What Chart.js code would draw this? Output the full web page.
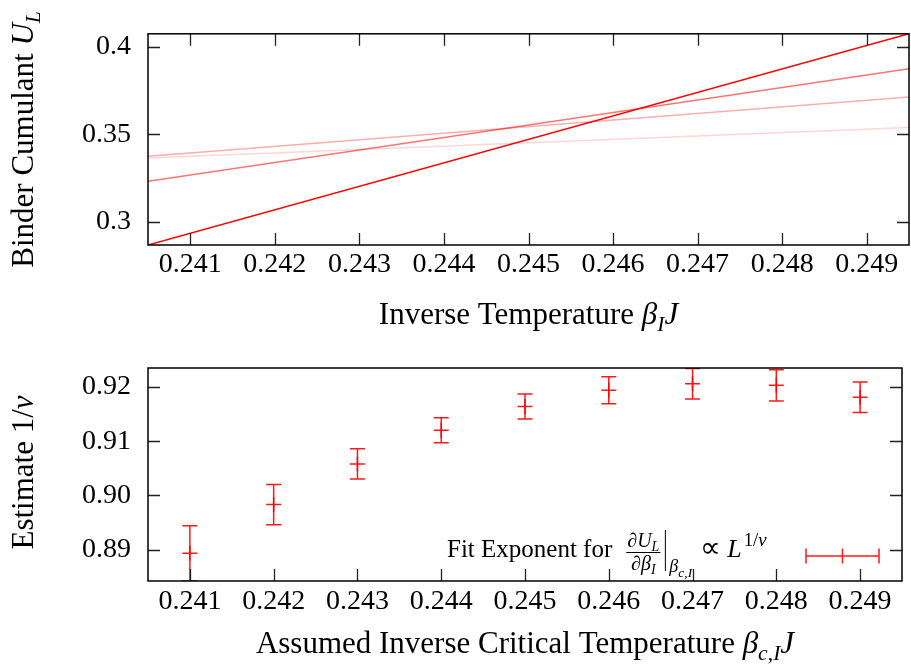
<!DOCTYPE html>
<html>
<head>
<meta charset="utf-8">
<script src="https://cdn.jsdelivr.net/npm/chart.js@4.4.1/dist/chart.umd.min.js"></script>
<style>
  html, body { margin: 0; padding: 0; background: #fff; }
  #wrap { position: relative; width: 911px; height: 668px; }
  canvas { position: absolute; left: 0; }
</style>
</head>
<body>
<div id="wrap">
  <canvas id="binder" width="911" height="340" style="top:0"></canvas>
  <canvas id="nu" width="911" height="348" style="top:320px"></canvas>
</div>
<script>
// top panel: linear fits of the Binder cumulant for 4 system sizes
const betaRange = [0.2405, 0.2495];
const binderFit1 = [0.2869, 0.4074];
const binderFit2 = [0.3233, 0.3875];
const binderFit3 = [0.3375, 0.3714];
const binderFit4 = [0.3365, 0.3540];

// bottom panel: fitted exponent vs assumed critical temperature
const betaC = [0.241, 0.242, 0.243, 0.244, 0.245, 0.246, 0.247, 0.248, 0.249];
const nuInv = [0.8893, 0.8983, 0.9058, 0.9120, 0.9164, 0.9194, 0.9206, 0.9203, 0.9181];
const nuErr = [0.0051, 0.0037, 0.0028, 0.0023, 0.0023, 0.0025, 0.0028, 0.0029, 0.0028];

const xTicks = [0.241, 0.242, 0.243, 0.244, 0.245, 0.246, 0.247, 0.248, 0.249];
const xLabels = ['0.241', '0.242', '0.243', '0.244', '0.245', '0.246', '0.247', '0.248', '0.249'];
const binderTicks = [0.3, 0.35, 0.4];
const binderLabels = ['0.3', '0.35', '0.4'];
const nuTicks = [0.89, 0.90, 0.91, 0.92];
const nuLabels = ['0.89', '0.90', '0.91', '0.92'];

const FONT = 'Liberation Serif';
const RED = '#ff0000';
const TITLE_SIZE = 31;

// draw a run of text pieces (italic / sub / sup), returns width
function drawRich(ctx, parts, x, y, size, align) {
    const fontOf = p => (p.it ? 'italic ' : '') + (size * (p.s || 1)) + 'px "' + FONT + '"';
    let w = 0;
    parts.forEach(p => {
        ctx.font = fontOf(p);
        p.w = ctx.measureText(p.t).width + (p.gap || 0);
        w += p.w;
    });
    let cx = align === 'center' ? x - w / 2 : (align === 'right' ? x - w : x);
    ctx.textAlign = 'left';
    ctx.textBaseline = 'alphabetic';
    parts.forEach(p => {
        ctx.font = fontOf(p);
        ctx.fillText(p.t, cx, y + (p.dy || 0) * size);
        cx += p.w;
    });
    return w;
}

const sub = (t) => ({ t: t, it: true, s: 0.7, dy: 0.22 });

function framePlugin(cfg) {
    return {
        id: 'frame',
        afterDraw(chart) {
            const { ctx, chartArea: a, scales } = chart;
            ctx.save();
            ctx.strokeStyle = '#222';
            ctx.lineWidth = 1.3;
            ctx.beginPath();
            scales.x.ticks.forEach(t => {
                const px = Math.round(scales.x.getPixelForValue(t.value)) + 0.5;
                ctx.moveTo(px, a.bottom); ctx.lineTo(px, a.bottom - 12);
                if (cfg.mirrorX) { ctx.moveTo(px, a.top); ctx.lineTo(px, a.top + 12); }
            });
            scales.y.ticks.forEach(t => {
                const py = Math.round(scales.y.getPixelForValue(t.value)) + 0.5;
                ctx.moveTo(a.left, py); ctx.lineTo(a.left + 12, py);
                ctx.moveTo(a.right, py); ctx.lineTo(a.right - 12, py);
            });
            ctx.stroke();
            ctx.strokeStyle = '#000';
            ctx.lineWidth = 1.5;
            ctx.strokeRect(a.left, a.top, a.width, a.height);

            ctx.fillStyle = '#000';
            drawRich(ctx, cfg.xTitle, (a.left + a.right) / 2, cfg.xTitleY, TITLE_SIZE, 'center');
            ctx.translate(cfg.yTitleX, (a.top + a.bottom) / 2 + cfg.yTitleShift);
            ctx.rotate(-Math.PI / 2);
            drawRich(ctx, cfg.yTitle, 0, 0, TITLE_SIZE, 'center');
            ctx.restore();
            if (cfg.extra) cfg.extra(chart);
        }
    };
}

const errorBarPlugin = {
    id: 'errbars',
    beforeDatasetsDraw(chart) {
        const { ctx, chartArea: a, scales } = chart;
        ctx.save();
        ctx.beginPath();
        ctx.rect(a.left, a.top, a.width, a.height);
        ctx.clip();
        ctx.strokeStyle = 'rgba(255,0,0,0.9)';
        ctx.lineWidth = 1.5;
        ctx.beginPath();
        betaC.forEach((b, i) => {
            const px = scales.x.getPixelForValue(b);
            const y1 = scales.y.getPixelForValue(nuInv[i] + nuErr[i]);
            const y0 = scales.y.getPixelForValue(nuInv[i] - nuErr[i]);
            ctx.moveTo(px, y0); ctx.lineTo(px, y1);
            ctx.moveTo(px - 7.5, y1); ctx.lineTo(px + 7.5, y1);
            ctx.moveTo(px - 7.5, y0); ctx.lineTo(px + 7.5, y0);
        });
        ctx.stroke();
        ctx.restore();
    }
};

function drawNuLegend(chart) {
    const ctx = chart.ctx;
    ctx.save();
    ctx.fillStyle = '#000';
    const base = 237;
    let x = 447;
    x += drawRich(ctx, [{ t: 'Fit Exponent for' }], x, base, 25, 'left') + 14;
    // fraction dU_L / d beta_I
    const num = [{ t: '\u2202' }, { t: 'U', it: true }, sub('L')];
    const den = [{ t: '\u2202' }, { t: '\u03B2', it: true }, sub('I')];
    const nw = drawRich(ctx, num, -1000, -1000, 20, 'left');
    const dw = drawRich(ctx, den, -1000, -1000, 20, 'left');
    const fw = Math.max(nw, dw) + 2;
    const fc = x + fw / 2;
    drawRich(ctx, num, fc, 227, 20, 'center');
    drawRich(ctx, den, fc, 250, 20, 'center');
    ctx.strokeStyle = '#000';
    ctx.lineWidth = 1;
    ctx.beginPath();
    ctx.moveTo(x, 232.5); ctx.lineTo(x + fw, 232.5);
    x += fw + 5;
    ctx.moveTo(x, 210); ctx.lineTo(x, 251);
    ctx.stroke();
    x += 4;
    x += drawRich(ctx, [{ t: '\u03B2', it: true }, { t: 'c,I', it: true, s: 0.75, dy: 0.25 }], x, 252, 18, 'left') + 8;
    x += drawRich(ctx, [{ t: '\u221D', s: 1.15 }], x, base, 25, 'left') + 6;
    drawRich(ctx, [{ t: 'L', it: true, gap: 2 }, { t: '1/', s: 0.72, dy: -0.42 }, { t: '\u03BD', it: true, s: 0.72, dy: -0.42 }], x, base, 26, 'left');

    // legend sample: horizontal error bar with a centre tick
    ctx.strokeStyle = 'rgba(255,0,0,0.9)';
    ctx.lineWidth = 1.5;
    ctx.beginPath();
    ctx.moveTo(806, 236); ctx.lineTo(879, 236);
    [806, 842.5, 879].forEach(px => { ctx.moveTo(px, 228.5); ctx.lineTo(px, 243.5); });
    ctx.stroke();
    ctx.restore();
}

function fixedTicks(values) {
    return function (scale) { scale.ticks = values.map(v => ({ value: v })); };
}

function lineSet(vals, color) {
    return {
        data: betaRange.map((b, i) => ({ x: b, y: vals[i] })),
        borderColor: color,
        borderWidth: 1.5,
        pointRadius: 0,
        showLine: true,
        fill: false
    };
}

const tickFont = { family: FONT, size: 28 };

new Chart(document.getElementById('binder'), {
    type: 'scatter',
    data: {
        datasets: [
            lineSet(binderFit4, 'rgba(255,0,0,0.16)'),
            lineSet(binderFit3, 'rgba(255,0,0,0.32)'),
            lineSet(binderFit2, 'rgba(255,0,0,0.55)'),
            lineSet(binderFit1, RED)
        ]
    },
    options: {
        responsive: false,
        animation: false,
        layout: { padding: { top: 33, right: 2, left: 0, bottom: 0 } },
        plugins: { legend: { display: false }, tooltip: { enabled: false } },
        scales: {
            x: {
                type: 'linear', min: betaRange[0], max: betaRange[1],
                afterBuildTicks: fixedTicks(xTicks),
                afterFit: s => { s.height = 95; },
                grid: { display: false, drawTicks: false }, border: { display: false },
                ticks: { font: tickFont, color: '#000', padding: 3, maxRotation: 0, autoSkip: false,
                    callback: (v, i) => xLabels[i] }
            },
            y: {
                type: 'linear', min: 0.2869, max: 0.4074,
                afterBuildTicks: fixedTicks(binderTicks),
                afterFit: s => { s.width = 148; },
                grid: { display: false, drawTicks: false }, border: { display: false },
                ticks: { font: tickFont, color: '#000', padding: 17, callback: (v, i) => binderLabels[i] }
            }
        }
    },
    plugins: [framePlugin({
        mirrorX: true,
        xTitle: [{ t: 'Inverse Temperature ' }, { t: '\u03B2', it: true }, sub('I'), { t: 'J', it: true }],
        xTitleY: 324,
        yTitle: [{ t: 'Binder Cumulant ' }, { t: 'U', it: true }, sub('L')],
        yTitleX: 33, yTitleShift: 0
    })]
});

new Chart(document.getElementById('nu'), {
    type: 'scatter',
    data: {
        datasets: [{
            data: betaC.map((b, i) => ({ x: b, y: nuInv[i] })),
            pointStyle: 'cross',
            pointRadius: 7.5,
            borderColor: 'rgba(255,0,0,0.9)',
            borderWidth: 1.5,
            showLine: false
        }]
    },
    options: {
        responsive: false,
        animation: false,
        layout: { padding: { top: 48, right: 2, left: 0, bottom: 0 } },
        plugins: { legend: { display: false }, tooltip: { enabled: false } },
        scales: {
            x: {
                type: 'linear', min: betaRange[0], max: betaRange[1],
                afterBuildTicks: fixedTicks(xTicks),
                afterFit: s => { s.height = 87; },
                grid: { display: false, drawTicks: false }, border: { display: false },
                ticks: { font: tickFont, color: '#000', padding: 4, maxRotation: 0, autoSkip: false,
                    callback: (v, i) => xLabels[i] }
            },
            y: {
                type: 'linear', min: 0.8842, max: 0.9235,
                afterBuildTicks: fixedTicks(nuTicks),
                afterFit: s => { s.width = 148; },
                grid: { display: false, drawTicks: false }, border: { display: false },
                ticks: { font: tickFont, color: '#000', padding: 17, callback: (v, i) => nuLabels[i] }
            }
        }
    },
    plugins: [errorBarPlugin, framePlugin({
        mirrorX: false,
        xTitle: [{ t: 'Assumed Inverse Critical Temperature ' }, { t: '\u03B2', it: true }, sub('c,I'), { t: 'J', it: true }],
        xTitleY: 333,
        yTitle: [{ t: 'Estimate 1/' }, { t: '\u03BD', it: true }],
        yTitleX: 33, yTitleShift: -2,
        extra: drawNuLegend
    })]
});
</script>
</body>
</html>
